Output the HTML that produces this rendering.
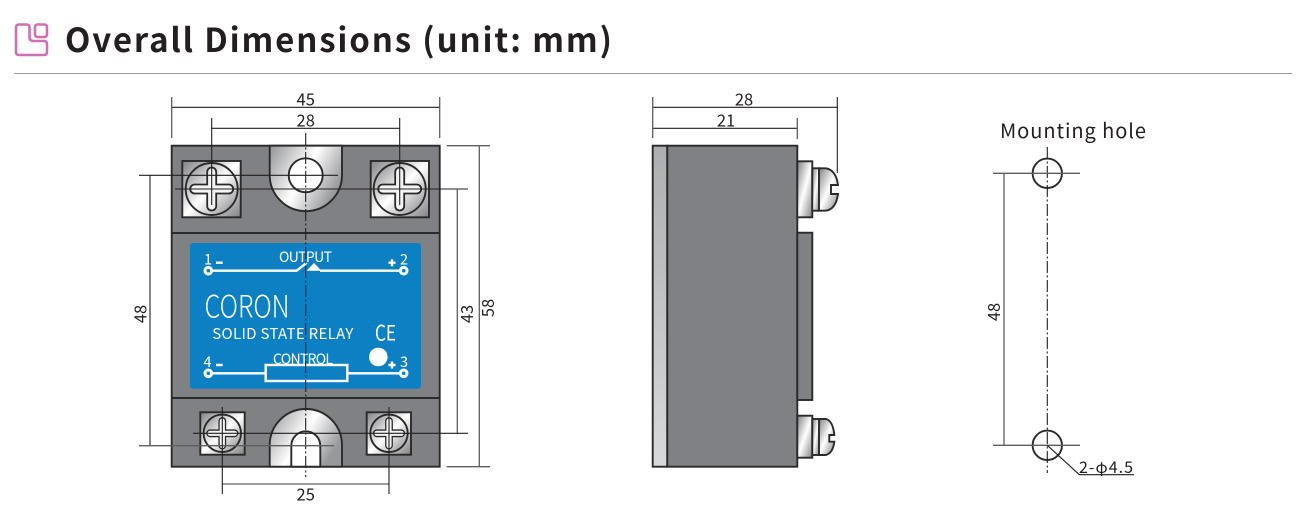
<!DOCTYPE html>
<html>
<head>
<meta charset="utf-8">
<style>
html,body{margin:0;padding:0;background:#fff;width:1298px;height:505px;overflow:hidden}
svg{display:block}
text{font-family:"Liberation Sans","Noto Sans CJK JP",sans-serif}
.d{font-family:"Noto Sans CJK JP","Liberation Sans",sans-serif;font-size:16.5px;fill:#231f20;text-anchor:middle}
.w{font-family:"Noto Sans CJK JP","Liberation Sans",sans-serif;fill:#fff}
.l{stroke:#231f20;stroke-width:1.1;fill:none}
.g{stroke:#5f5f5f;stroke-width:1.3;fill:none}
.o{stroke:#2b2a2b;stroke-width:1.9}
.cd{stroke:#231f20;stroke-width:1.1;stroke-dasharray:12 2.5 2 2.5;fill:none}
</style>
</head>
<body>
<svg width="1298" height="505" viewBox="0 0 1298 505" xmlns="http://www.w3.org/2000/svg">
<defs>
<linearGradient id="m" x1="0" y1="0" x2="1" y2="1">
<stop offset="0" stop-color="#808184"/><stop offset=".5" stop-color="#ffffff"/><stop offset="1" stop-color="#808184"/>
</linearGradient>
<linearGradient id="t" x1="0" y1="0" x2="1" y2=".5">
<stop offset="0" stop-color="#929396"/><stop offset=".55" stop-color="#fff"/><stop offset="1" stop-color="#98999c"/>
</linearGradient>
<linearGradient id="s" x1="0" y1="0" x2="0" y2="1">
<stop offset="0" stop-color="#adaeb1"/><stop offset="1" stop-color="#d8d9da"/>
</linearGradient>
<g id="cross"><path d="M-4.5,-17A4.5,4.5 0 0 1 4.5,-17V-4.5H17A4.5,4.5 0 0 1 17,4.5H4.5V17A4.5,4.5 0 0 1 -4.5,17V4.5H-17A4.5,4.5 0 0 1 -17,-4.5H-4.5Z" fill="#f4f4f4" stroke="#2b2a2b" stroke-width="1.8"/></g>
<g id="node"><circle r="4.8" fill="#fff"/><circle r="1.8" fill="#0d80c4"/></g>
</defs>

<!-- Header -->
<g fill="none" stroke="#d070b0" stroke-width="2.6">
<path d="M19,24.5H26.5Q29.5,24.5 29.5,27.5V37Q29.5,41 33.5,41H44Q47,41 47,44V52Q47,55 44,55H19Q16,55 16,52V27.5Q16,24.5 19,24.5Z"/>
<rect x="35" y="24.5" width="12" height="12.5" rx="2.5"/>
</g>
<text x="65" y="52" font-size="33" font-weight="700" fill="#231f20" textLength="547" lengthAdjust="spacing" style="font-family:'Noto Sans CJK JP','Liberation Sans',sans-serif">Overall Dimensions (unit: mm)</text>
<rect x="14" y="73" width="1278" height="1" fill="#999"/>

<!-- Front view body -->
<rect x="171.7" y="145.7" width="268" height="321" fill="#808185" class="o"/>
<path d="M171.7,233H439.7M171.7,398H439.7" class="o" fill="none"/>

<!-- Top screws -->
<rect x="182.3" y="161" width="58.4" height="56.3" fill="url(#m)" class="o"/>
<circle cx="211.7" cy="189" r="26" fill="url(#m)" class="o"/>
<use href="#cross" x="211.7" y="189"/>
<rect x="370.7" y="161" width="58.3" height="56.3" fill="url(#m)" class="o"/>
<circle cx="399.7" cy="189" r="26" fill="url(#m)" class="o"/>
<use href="#cross" x="399.7" y="189"/>

<!-- Top tab -->
<path d="M269.7,145.7H342V175A36.15,36.15 0 0 1 269.7,175Z" fill="url(#t)" class="o"/>
<circle cx="305.7" cy="175.3" r="17" fill="#fff" class="o"/>

<!-- Bottom screws -->
<rect x="200.3" y="412.3" width="44.4" height="42.4" fill="url(#m)" class="o"/>
<circle cx="222.3" cy="433.3" r="18.7" fill="url(#m)" class="o"/>
<use href="#cross" transform="translate(222.3 433.3) scale(.72)"/>
<rect x="366.7" y="412.3" width="44.3" height="42.4" fill="url(#m)" class="o"/>
<circle cx="389" cy="433.3" r="18.7" fill="url(#m)" class="o"/>
<use href="#cross" transform="translate(389 433.3) scale(.72)"/>

<!-- Bottom tab -->
<path d="M269.7,466.7V445A36.15,36 0 0 1 342,445V466.7Z" fill="url(#t)" class="o"/>
<path d="M291.3,466.7V445.8A14.5,14.5 0 0 1 320.3,445.8V466.7Z" fill="#fff" class="o"/>

<!-- Blue label -->
<rect x="190" y="243" width="231" height="145.7" rx="3" fill="#0d80c4"/>
<g stroke="#fff" stroke-width="2.4" fill="none">
<path d="M208.3,270.7H296.7L306.7,262.7"/>
<path d="M320,270.7H403.7"/>
<path d="M208.3,373.3H265.7M347.3,373.3H403.7"/>
<rect x="265.7" y="365" width="81.6" height="16"/>
<path d="M216,262.7H222.7M216,365H222.7M388.5,262.7H395.5M392,259.2V266.2M388.5,365H395.5M392,361.5V368.5"/>
</g>
<path d="M306.5,270.7L314,263L321.5,270.7Z" fill="#fff"/>
<use href="#node" x="208.3" y="270.7"/>
<use href="#node" x="403.7" y="270.7"/>
<use href="#node" x="208.3" y="373.3"/>
<use href="#node" x="403.7" y="373.3"/>
<circle cx="378.3" cy="357" r="9.3" fill="#fff"/>
<text class="w" x="279" y="262" font-size="14" textLength="53">OUTPUT</text>
<text class="w" x="204" y="264.7" font-size="14.5">1</text>
<text class="w" x="400" y="264.7" font-size="14.5">2</text>
<text class="w" x="203.5" y="367" font-size="14.5">4</text>
<text class="w" x="400" y="367" font-size="14.5">3</text>
<text class="w" x="204.5" y="317.5" font-size="31" textLength="85" lengthAdjust="spacingAndGlyphs" style="font-weight:300">CORON</text>
<text class="w" x="212.3" y="339" font-size="15" textLength="141">SOLID STATE RELAY</text>
<text class="w" x="375" y="340.5" font-size="21" textLength="21" lengthAdjust="spacingAndGlyphs">CE</text>
<text class="w" x="273" y="364" font-size="14" textLength="60">CONTROL</text>

<!-- Front view dims -->
<path class="cd" d="M305.7,133V477"/>
<path class="l" d="M171.7,107.3H439.7M211.7,128.3H399.7M211.7,118V205M399.7,118V205M139,175.3H338M175,189H468M150,175.3V445.7"/>
<path class="g" d="M171.7,97V138M439.7,97V138M457.3,189V433.3M479.3,145.7V466.7M446.7,145.7H490M446.7,466.7H490M139,445.7H334M222.3,484H389"/>
<path class="l" d="M193,433.3H468M222.3,407V494M389,407V494"/>
<text class="d" x="305.7" y="105.7">45</text>
<text class="d" x="305.7" y="126.7">28</text>
<text class="d" x="305.7" y="500.7">25</text>
<text class="d" transform="translate(146.5 314) rotate(-90)">48</text>
<text class="d" transform="translate(473 314) rotate(-90)">43</text>
<text class="d" transform="translate(494 308) rotate(-90)">58</text>

<!-- Side view -->
<rect x="652.7" y="145.7" width="14.6" height="321" fill="url(#s)" class="o"/>
<rect x="667.3" y="145.7" width="130" height="321" fill="#808185" class="o"/>
<rect x="797.3" y="232.7" width="15" height="167.3" fill="#808185" class="o"/>
<rect x="797.3" y="161.3" width="15" height="56" fill="url(#m)" class="o"/>
<rect x="812.3" y="168.3" width="7" height="42.4" fill="url(#m)" class="o"/>
<path d="M819,168.3H826Q836,170 838,185H831V194H838Q836,209 826,210.7H819Z" fill="url(#m)" class="o"/>
<rect x="797.3" y="415.7" width="15" height="42" fill="url(#m)" class="o"/>
<rect x="812.3" y="419" width="7" height="36" fill="url(#m)" class="o"/>
<path d="M819,419H826Q833,421 834.3,435H829.3V441.7H834.3Q833,453 826,455H819Z" fill="url(#m)" class="o"/>
<path class="l" d="M652.7,107.3H837.3M652.7,128.3H797.3M837.3,97V173"/>
<path class="g" d="M652.7,97V138M797.3,118V139"/>
<text class="d" x="744" y="105.7">28</text>
<text class="d" x="726" y="126.7">21</text>

<!-- Mounting hole -->
<text x="1000" y="138" font-size="20" fill="#231f20" textLength="146" style="font-family:'Noto Sans CJK JP','Liberation Sans',sans-serif">Mounting hole</text>
<circle cx="1047.3" cy="173.3" r="14.7" fill="none" class="o"/>
<circle cx="1047.3" cy="445.3" r="14.7" fill="none" class="o"/>
<path class="cd" d="M1047.3,147V473"/>
<path class="g" d="M993,173.3H1080M993,445.3H1080M1004,173.3V445.3"/>
<path class="l" d="M1047.3,445.3L1079.3,474.7H1134"/>
<text class="d" transform="translate(1000 312) rotate(-90)">48</text>
<text x="1079" y="473" font-size="16" fill="#231f20" textLength="54" style="font-family:'Noto Sans CJK JP','Liberation Sans',sans-serif">2-φ4.5</text>
</svg>
</body>
</html>
